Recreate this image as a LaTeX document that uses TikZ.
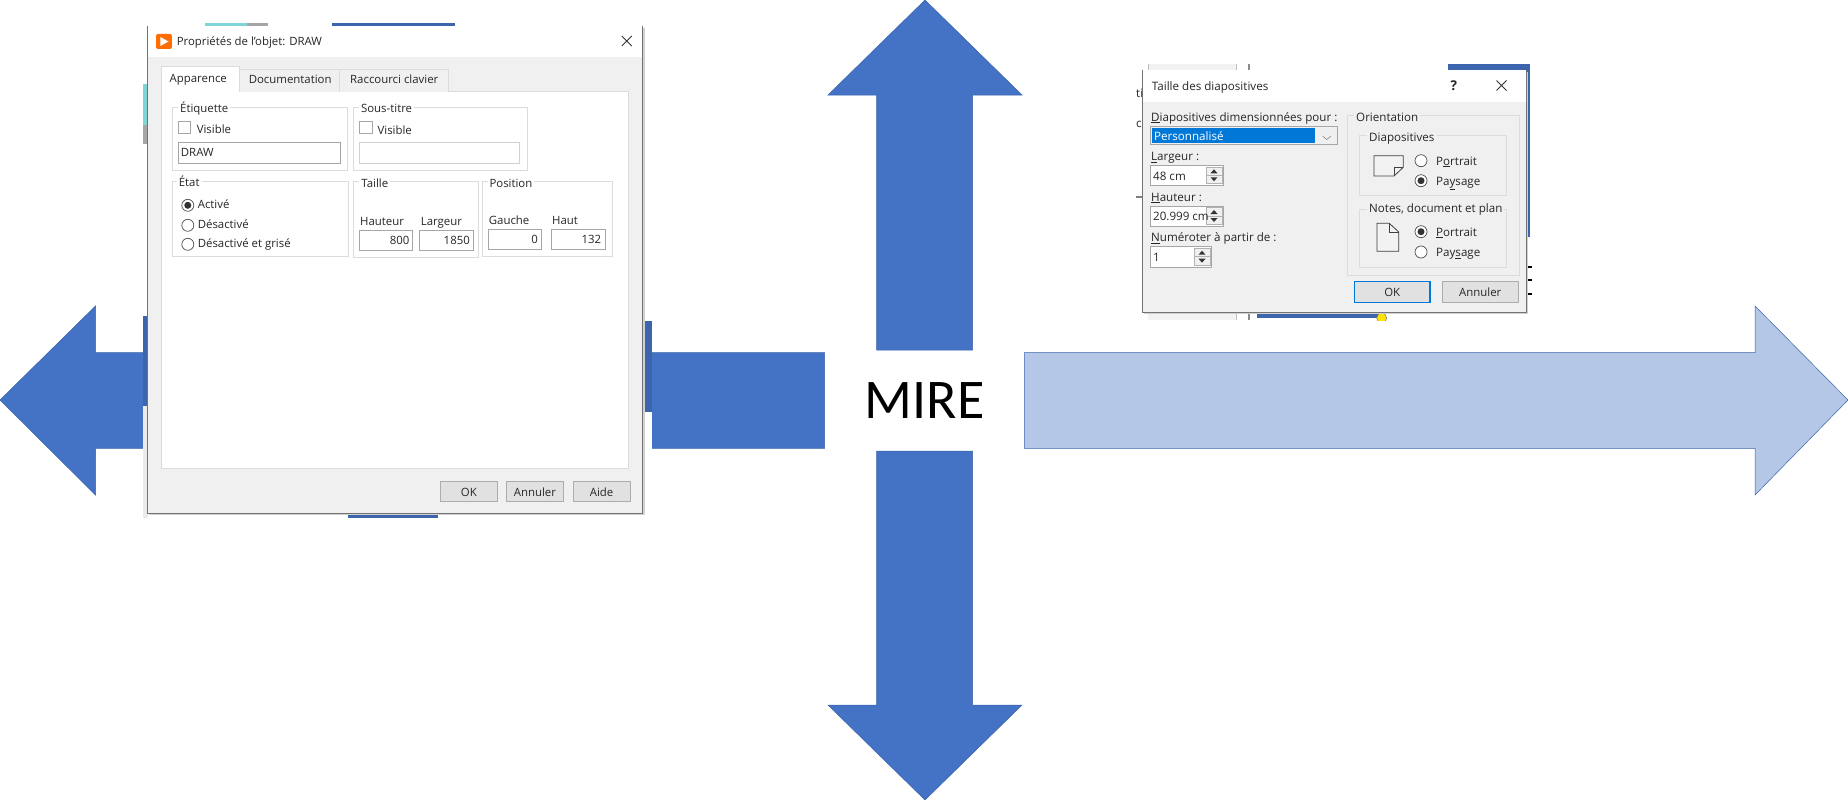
\documentclass[tikz,border=0pt]{standalone}
\usepackage{fontspec}
\setmainfont{Open Sans}
\newfontfamily\mirefont{Carlito}
\definecolor{arrowblue}{HTML}{4472C4}
\definecolor{arrowedge}{HTML}{3A62AC}
\definecolor{arrowlight}{HTML}{B4C7E7}
\definecolor{behindblue}{HTML}{3D65AD}
\definecolor{panelgrey}{HTML}{F0F0F0}
\definecolor{framegrey}{HTML}{DCDCDC}
\definecolor{btngrey}{HTML}{E1E1E1}
\definecolor{btnedge}{HTML}{ADADAD}
\definecolor{selblue}{HTML}{0078D7}
\definecolor{teal}{HTML}{7FD6D6}
\tikzset{
	arrowdark/.style={fill=arrowblue,draw=arrowedge,line width=0.5pt},
	arrowpale/.style={fill=arrowlight,draw=arrowedge,line width=0.5pt},
	dlgtext/.style={anchor=base west,inner sep=0pt,font=\fontsize{11.4}{13}\selectfont,text=black!85},
	dlgright/.style={dlgtext,font=\fontsize{11.6}{13}\selectfont},
	legendw/.style={dlgtext,inner xsep=2pt,fill=white},
	legendg/.style={dlgright,inner xsep=2pt,fill=panelgrey},
	numtext/.style={dlgtext,anchor=base east},
	midtext/.style={dlgtext,anchor=base},
	groupbox/.style={draw=framegrey,line width=0.8pt},
	inputbox/.style={draw=black!35,fill=white,line width=0.8pt},
	btnbox/.style={draw=btnedge,fill=btngrey,line width=0.8pt},
	radio/.style={draw=black!70,fill=white,line width=0.7pt},
	dlgwin/.style={draw=black!55,fill=panelgrey,line width=0.9pt}
}
\begin{document}
\begin{tikzpicture}[x=1pt,y=-1pt]
	\useasboundingbox (0,0) rectangle (1848,800);
	% big arrows
	\draw[arrowdark] (0,400) -- (95.5,306) -- (95.5,352.7) -- (824.7,352.7) -- (824.7,448.3) -- (95.5,448.3) -- (95.5,495) -- cycle;
	\draw[arrowdark] (925,0) -- (1022,95) -- (972.5,95) -- (972.5,350) -- (876.7,350) -- (876.7,95) -- (828,95) -- cycle;
	\draw[arrowdark] (925,800) -- (1022,705) -- (972.5,705) -- (972.5,451) -- (876.7,451) -- (876.7,705) -- (828,705) -- cycle;
	\draw[arrowpale] (1848,400) -- (1755,306) -- (1755,352.7) -- (1024.3,352.7) -- (1024.3,448.3) -- (1755,448.3) -- (1755,495) -- cycle;
	\node[inner sep=0pt,font=\mirefont\fontsize{56}{60}\selectfont] (mire) at (924.5,401) {MIRE};

	% left screenshot
	\fill[white] (142.9,23) rectangle (652,517.7);
	\fill[behindblue] (142.9,316) rectangle (147.5,406);
	\fill[behindblue] (643,321) rectangle (652,411.7);
	\fill[behindblue] (348,513) rectangle (438,517.7);
	\fill[behindblue] (331.8,23) rectangle (455.2,26);
	\fill[teal] (205,23) rectangle (246.6,26);
	\fill[black!35] (246.6,23) rectangle (267.9,26);
	\fill[teal] (142.9,84) rectangle (147.5,125);
	\fill[black!35] (142.9,125) rectangle (147.5,144);
	\fill[black!8] (142.9,406) rectangle (147.5,517.7);
	\fill[black!18] (149,28) rectangle (644.5,515);
	\draw[dlgwin] (147.5,26) rectangle (642.8,513.3);
	\fill[white] (148,26.5) rectangle (642.3,56.7);
	\fill[white] (161.1,91.7) rectangle (628.6,468.3);
	\draw[framegrey] (161.1,91.7) rectangle (628.6,468.3);
	\fill[orange!85!red,rounded corners=1.5pt] (156,34) rectangle (171.9,49);
	\fill[white] (160.3,37) -- (168.5,41.5) -- (160.3,46) -- cycle;
	\node[dlgtext] (title1) at (176.6,46) {Propriétés de l'objet: DRAW};
	\draw[black!80,line width=0.8pt] (621.8,36) -- (631.8,46) (631.8,36) -- (621.8,46);
	% tabs
	\draw[framegrey,fill=panelgrey] (239.2,92) |- (339.6,69.3) -- (339.6,92);
	\draw[framegrey,fill=panelgrey] (339.6,92) |- (447.7,69.3) -- (447.7,92);
	\draw[framegrey,fill=white] (161.1,92) |- (239.2,66.7) -- (239.2,92);
	\fill[white] (161.6,90) rectangle (238.7,93);
	\node[dlgtext] (tabapp) at (169.5,82) {Apparence};
	\node[dlgtext] (tabdoc) at (248.6,83.5) {Documentation};
	\node[dlgtext] (tabkey) at (350,83.5) {Raccourci clavier};
	% groups
	\draw[groupbox] (172.3,107.3) rectangle (347.3,170);
	\draw[groupbox] (353.4,107.3) rectangle (527.5,170);
	\draw[groupbox] (172.3,181) rectangle (348.7,256);
	\draw[groupbox] (353.4,181) rectangle (478.5,257.3);
	\draw[groupbox] (482.2,181) rectangle (612,256.7);
	\foreach \nm/\x/\y/\txt in {lgeti/178/112.5/Étiquette,lgsous/358.9/112.5/Sous-titre,lgetat/176.6/186.5/État,lgtail/359.2/187.5/Taille,lgpos/487.3/187.5/Position}
		\node[legendw] (\nm) at (\x,\y) {\txt};
	\draw[inputbox] (178,121.7) rectangle (190.8,133.7);
	\draw[inputbox] (359.2,121.7) rectangle (372,133.7);
	\draw[inputbox] (178,142.3) rectangle (340.2,163.3);
	\draw[inputbox,draw=black!18] (359.2,142.3) rectangle (519.7,163.3);
	\draw[inputbox] (359.2,230.7) rectangle (412.6,250.3);
	\draw[inputbox] (419.7,230.7) rectangle (473.8,250.3);
	\draw[inputbox] (488,229.3) rectangle (541.7,249.3);
	\draw[inputbox] (551.6,229.3) rectangle (604.9,249.3);
	\foreach \nm/\x/\y/\txt in {vis1/196.6/133.2/Visible,vis2/377.4/134/Visible,drawtxt/180.7/156.5/DRAW,etat1/197.6/208.5/Activé,etat2/197.6/228/Désactivé,etat3/197.6/247/Désactivé et grisé,hautr/359.9/225/Hauteur,largr/420.7/225/Largeur,gauch/488.7/224.5/Gauche,hautp/551.9/224.5/Haut}
		\node[dlgtext] (\nm) at (\x,\y) {\txt};
	\foreach \nm/\x/\y/\txt in {val800/409.6/244.5/800,val1850/470/244.5/1850,val0/538/243.5/0,val132/601.3/243.5/132}
		\node[numtext] (\nm) at (\x,\y) {\txt};
	\foreach \y in {205.3,225.3,244.3}
		\draw[radio] (187.8,\y) circle (6);
	\fill[black!80] (187.8,205.3) circle (3.5);
	% buttons
	\draw[btnbox] (440.3,481.7) rectangle (497.4,501.7);
	\draw[btnbox] (506.2,481.7) rectangle (563.7,501.7);
	\draw[btnbox] (573.2,481.7) rectangle (630,501.7);
	\node[midtext] (okleft) at (468.9,496) {OK};
	\node[midtext] (annleft) at (534.9,496) {Annuler};
	\node[midtext] (aide) at (601.6,496) {Aide};

	% right screenshot
	\fill[white] (1136,64) rectangle (1531.7,320);
	\fill[black!5] (1148,64) rectangle (1236,320);
	\fill[behindblue] (1448.3,64) rectangle (1530,70);
	\fill[behindblue] (1526,64) rectangle (1530,236.7);
	\fill[behindblue] (1256.7,312) rectangle (1380,318);
	\fill[black!45] (1247.5,64) rectangle (1249.5,320);
	\fill[black!25] (1236,64) rectangle (1237,320);
	\fill[black!25] (1148,64) rectangle (1149,70);
	\fill[black!50] (1136,196) rectangle (1143,197.5);
	\foreach \y in {266.7,280,294}
		\fill[black] (1526,\y-1) rectangle (1531.7,\y+1);
	\node[dlgright] (cutti) at (1136,97) {ti};
	\node[dlgright] (cutcl) at (1136,128) {cl};
	\begin{scope}
		\clip (1136,312) rectangle (1531.7,320);
		\draw[fill=yellow!85!orange,draw=black!60] (1381.7,318) circle (5);
	\end{scope}
	\fill[black!18] (1144,72) rectangle (1527.5,314);
	\draw[dlgwin] (1142.7,70) rectangle (1526,312);
	\fill[white] (1143.2,70.5) rectangle (1525.5,101.7);
	\node[dlgright] (title2) at (1151.7,90.5) {Taille des diapositives};
	\node[dlgright,font=\bfseries\fontsize{13.5}{14}\selectfont] (quest) at (1450.5,91) {?};
	\draw[black!80,line width=0.8pt] (1496.5,80.5) -- (1506.5,90.5) (1506.5,80.5) -- (1496.5,90.5);
	\foreach \nm/\y/\txt in {dimens/121.2/\underline{D}iapositives dimensionnées pour :,largt/160.5/\underline{L}argeur :,hautt/201.2/\underline{H}auteur :,numt/241.8/\underline{N}uméroter à partir de :}
		\node[dlgright] (\nm) at (1151,\y) {\txt};
	% combo and spinners
	\draw[inputbox,fill=panelgrey] (1150,126.3) rectangle (1337.3,144.7);
	\fill[selblue] (1151.7,127.7) rectangle (1315,142.7);
	\draw[black!60] (1322.5,136) -- (1326.7,139.5) -- (1331,136);
	\node[dlgright,text=white] (perso) at (1154,140) {Personnalisé};
	\draw[inputbox] (1150,165.3) rectangle (1223.7,185.3);
	\draw[inputbox] (1150,206) rectangle (1223.7,226.3);
	\draw[inputbox] (1150,246.7) rectangle (1211,267.3);
	\foreach \x/\y in {1206/165.3,1206/206,1194/246.7}{
		\draw[draw=black!30,fill=panelgrey] (\x,\y+1.5) rectangle (\x+16,\y+18);
		\draw[draw=black!30] (\x,\y+9.7) -- (\x+16,\y+9.7);
		\fill[black!80] (\x+8,\y+4) -- (\x+11.5,\y+8) -- (\x+4.5,\y+8) -- cycle;
		\fill[black!80] (\x+8,\y+16) -- (\x+11.5,\y+12) -- (\x+4.5,\y+12) -- cycle;
	}
	\node[dlgright] (val48) at (1153,180) {48 cm};
	\node[dlgright] (val20) at (1153,220.5) {20.999 cm};
	\node[dlgright] (val1) at (1153,261) {1};
	% orientation
	\draw[groupbox] (1347.3,115.7) rectangle (1519,275.7);
	\draw[groupbox] (1359.3,135.3) rectangle (1506.7,195.7);
	\draw[groupbox] (1359.3,209) rectangle (1506.7,267.3);
	\node[legendg] (orient) at (1354,121.2) {Orientation};
	\node[legendg] (diapos) at (1367,141.2) {Diapositives};
	\node[legendg] (notes) at (1367,212.5) {Notes, document et plan};
	\foreach \y in {160.7,180.7,231.7,252}
		\draw[radio] (1421,\y) circle (6);
	\fill[black!80] (1421,180.7) circle (3.5);
	\fill[black!80] (1421,231.7) circle (3.5);
	\foreach \nm/\y/\txt in {port1/165/P\underline{o}rtrait,pays1/185/Pa\underline{y}sage,port2/236/\underline{P}ortrait,pays2/256.5/Pay\underline{s}age}
		\node[dlgright] (\nm) at (1436,\y) {\txt};
	% page icons
	\draw[black!75,fill=white!95!black,line width=0.8pt] (1374,155.7) -- (1403.3,155.7) -- (1403.3,167.3) -- (1394,176) -- (1374,176) -- cycle;
	\draw[black!75,line width=0.8pt] (1403.3,167.3) -- (1394,167.3) -- (1394,176);
	\draw[black!75,fill=white!95!black,line width=0.8pt] (1377,223.3) -- (1389.3,223.3) -- (1398.7,232) -- (1398.7,251.3) -- (1377,251.3) -- cycle;
	\draw[black!75,line width=0.8pt] (1389.3,223.3) -- (1389.3,232) -- (1398.7,232);
	% buttons
	\draw[btnbox,draw=selblue,line width=1.4pt] (1354.3,281.7) rectangle (1430,302.7);
	\draw[btnbox] (1442.3,281.7) rectangle (1518.3,302.7);
	\node[midtext] (okright) at (1392.2,296.5) {OK};
	\node[midtext] (annright) at (1480.3,296.5) {Annuler};
\end{tikzpicture}
\end{document}
